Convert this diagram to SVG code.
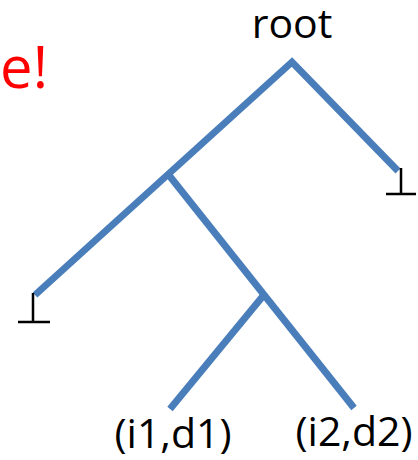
<svg xmlns="http://www.w3.org/2000/svg" width="418" height="460" viewBox="0 0 418 460">
<style>
.br{stroke:#4A7EBB;stroke-width:7;fill:none;stroke-linecap:butt}
.bot{stroke:#000;stroke-width:2.5;fill:none}
.lbl{font-family:"Open Sans","Noto Sans",sans-serif;font-size:41px;fill:#000}
</style>
<rect width="418" height="460" fill="#fff"/>
<text x="48" y="88" text-anchor="end" style="font-family:'Open Sans','Noto Sans',sans-serif;font-size:58px;fill:#ff0000">e!</text>
<g id="connectors">
<polyline class="br" points="35,295 292,62 398,171"/>
<line class="br" x1="168" y1="174" x2="354" y2="408"/>
<line class="br" x1="263" y1="296" x2="170" y2="409"/>
</g>
<g id="root"><text class="lbl" x="292" y="38" text-anchor="middle">root</text></g>
<g id="bottom-left"><path class="bot" d="M33,293 V322 M18,322 H50"/></g>
<g id="bottom-right"><path class="bot" d="M401,168 V194 M386,194 H416"/></g>
<g id="leaf1"><text class="lbl" x="173" y="448" text-anchor="middle">(i1,d1)</text></g>
<g id="leaf2"><text class="lbl" x="354" y="446" text-anchor="middle">(i2,d2)</text></g>
</svg>
